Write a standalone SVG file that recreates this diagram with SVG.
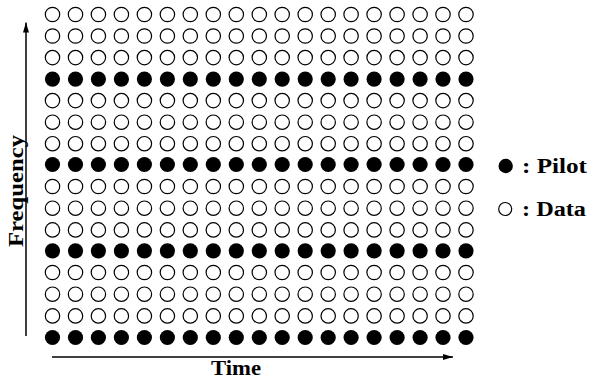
<svg xmlns="http://www.w3.org/2000/svg" width="590" height="381" viewBox="0 0 590 381">
<style>
.d{fill:#fff;stroke:#000;stroke-width:1.2}
.p{fill:#000}
.t{font-family:"Liberation Serif","Times New Roman",serif;font-weight:bold;fill:#000}
.ax{stroke:#000;stroke-width:1.5;fill:none}
</style>
<defs>
<circle id="o" r="7.2" class="d"/>
<circle id="f" r="7.6" class="p"/>
<marker id="ah" viewBox="0 0 10 6" refX="10" refY="3" markerWidth="10" markerHeight="6" markerUnits="userSpaceOnUse" orient="auto">
<path d="M0,0 L10,3 L0,6 Z" fill="#000"/>
</marker>
</defs>
<rect width="590" height="381" fill="#fff"/>
<g id="grid">
<g id="row0" transform="translate(0,14.5)"><use href="#o" x="52.5"/><use href="#o" x="75.5"/><use href="#o" x="98.4"/><use href="#o" x="121.4"/><use href="#o" x="144.4"/><use href="#o" x="167.4"/><use href="#o" x="190.3"/><use href="#o" x="213.3"/><use href="#o" x="236.3"/><use href="#o" x="259.3"/><use href="#o" x="282.2"/><use href="#o" x="305.2"/><use href="#o" x="328.2"/><use href="#o" x="351.1"/><use href="#o" x="374.1"/><use href="#o" x="397.1"/><use href="#o" x="420.1"/><use href="#o" x="443"/><use href="#o" x="466"/></g>
<g id="row1" transform="translate(0,36)"><use href="#o" x="52.5"/><use href="#o" x="75.5"/><use href="#o" x="98.4"/><use href="#o" x="121.4"/><use href="#o" x="144.4"/><use href="#o" x="167.4"/><use href="#o" x="190.3"/><use href="#o" x="213.3"/><use href="#o" x="236.3"/><use href="#o" x="259.3"/><use href="#o" x="282.2"/><use href="#o" x="305.2"/><use href="#o" x="328.2"/><use href="#o" x="351.1"/><use href="#o" x="374.1"/><use href="#o" x="397.1"/><use href="#o" x="420.1"/><use href="#o" x="443"/><use href="#o" x="466"/></g>
<g id="row2" transform="translate(0,57.6)"><use href="#o" x="52.5"/><use href="#o" x="75.5"/><use href="#o" x="98.4"/><use href="#o" x="121.4"/><use href="#o" x="144.4"/><use href="#o" x="167.4"/><use href="#o" x="190.3"/><use href="#o" x="213.3"/><use href="#o" x="236.3"/><use href="#o" x="259.3"/><use href="#o" x="282.2"/><use href="#o" x="305.2"/><use href="#o" x="328.2"/><use href="#o" x="351.1"/><use href="#o" x="374.1"/><use href="#o" x="397.1"/><use href="#o" x="420.1"/><use href="#o" x="443"/><use href="#o" x="466"/></g>
<g id="row3" transform="translate(0,79.1)"><use href="#f" x="52.5"/><use href="#f" x="75.5"/><use href="#f" x="98.4"/><use href="#f" x="121.4"/><use href="#f" x="144.4"/><use href="#f" x="167.4"/><use href="#f" x="190.3"/><use href="#f" x="213.3"/><use href="#f" x="236.3"/><use href="#f" x="259.3"/><use href="#f" x="282.2"/><use href="#f" x="305.2"/><use href="#f" x="328.2"/><use href="#f" x="351.1"/><use href="#f" x="374.1"/><use href="#f" x="397.1"/><use href="#f" x="420.1"/><use href="#f" x="443"/><use href="#f" x="466"/></g>
<g id="row4" transform="translate(0,100.6)"><use href="#o" x="52.5"/><use href="#o" x="75.5"/><use href="#o" x="98.4"/><use href="#o" x="121.4"/><use href="#o" x="144.4"/><use href="#o" x="167.4"/><use href="#o" x="190.3"/><use href="#o" x="213.3"/><use href="#o" x="236.3"/><use href="#o" x="259.3"/><use href="#o" x="282.2"/><use href="#o" x="305.2"/><use href="#o" x="328.2"/><use href="#o" x="351.1"/><use href="#o" x="374.1"/><use href="#o" x="397.1"/><use href="#o" x="420.1"/><use href="#o" x="443"/><use href="#o" x="466"/></g>
<g id="row5" transform="translate(0,122.2)"><use href="#o" x="52.5"/><use href="#o" x="75.5"/><use href="#o" x="98.4"/><use href="#o" x="121.4"/><use href="#o" x="144.4"/><use href="#o" x="167.4"/><use href="#o" x="190.3"/><use href="#o" x="213.3"/><use href="#o" x="236.3"/><use href="#o" x="259.3"/><use href="#o" x="282.2"/><use href="#o" x="305.2"/><use href="#o" x="328.2"/><use href="#o" x="351.1"/><use href="#o" x="374.1"/><use href="#o" x="397.1"/><use href="#o" x="420.1"/><use href="#o" x="443"/><use href="#o" x="466"/></g>
<g id="row6" transform="translate(0,143.7)"><use href="#o" x="52.5"/><use href="#o" x="75.5"/><use href="#o" x="98.4"/><use href="#o" x="121.4"/><use href="#o" x="144.4"/><use href="#o" x="167.4"/><use href="#o" x="190.3"/><use href="#o" x="213.3"/><use href="#o" x="236.3"/><use href="#o" x="259.3"/><use href="#o" x="282.2"/><use href="#o" x="305.2"/><use href="#o" x="328.2"/><use href="#o" x="351.1"/><use href="#o" x="374.1"/><use href="#o" x="397.1"/><use href="#o" x="420.1"/><use href="#o" x="443"/><use href="#o" x="466"/></g>
<g id="row7" transform="translate(0,164.5)"><use href="#f" x="52.5"/><use href="#f" x="75.5"/><use href="#f" x="98.4"/><use href="#f" x="121.4"/><use href="#f" x="144.4"/><use href="#f" x="167.4"/><use href="#f" x="190.3"/><use href="#f" x="213.3"/><use href="#f" x="236.3"/><use href="#f" x="259.3"/><use href="#f" x="282.2"/><use href="#f" x="305.2"/><use href="#f" x="328.2"/><use href="#f" x="351.1"/><use href="#f" x="374.1"/><use href="#f" x="397.1"/><use href="#f" x="420.1"/><use href="#f" x="443"/><use href="#f" x="466"/></g>
<g id="row8" transform="translate(0,186.5)"><use href="#o" x="52.5"/><use href="#o" x="75.5"/><use href="#o" x="98.4"/><use href="#o" x="121.4"/><use href="#o" x="144.4"/><use href="#o" x="167.4"/><use href="#o" x="190.3"/><use href="#o" x="213.3"/><use href="#o" x="236.3"/><use href="#o" x="259.3"/><use href="#o" x="282.2"/><use href="#o" x="305.2"/><use href="#o" x="328.2"/><use href="#o" x="351.1"/><use href="#o" x="374.1"/><use href="#o" x="397.1"/><use href="#o" x="420.1"/><use href="#o" x="443"/><use href="#o" x="466"/></g>
<g id="row9" transform="translate(0,208.2)"><use href="#o" x="52.5"/><use href="#o" x="75.5"/><use href="#o" x="98.4"/><use href="#o" x="121.4"/><use href="#o" x="144.4"/><use href="#o" x="167.4"/><use href="#o" x="190.3"/><use href="#o" x="213.3"/><use href="#o" x="236.3"/><use href="#o" x="259.3"/><use href="#o" x="282.2"/><use href="#o" x="305.2"/><use href="#o" x="328.2"/><use href="#o" x="351.1"/><use href="#o" x="374.1"/><use href="#o" x="397.1"/><use href="#o" x="420.1"/><use href="#o" x="443"/><use href="#o" x="466"/></g>
<g id="row10" transform="translate(0,229.9)"><use href="#o" x="52.5"/><use href="#o" x="75.5"/><use href="#o" x="98.4"/><use href="#o" x="121.4"/><use href="#o" x="144.4"/><use href="#o" x="167.4"/><use href="#o" x="190.3"/><use href="#o" x="213.3"/><use href="#o" x="236.3"/><use href="#o" x="259.3"/><use href="#o" x="282.2"/><use href="#o" x="305.2"/><use href="#o" x="328.2"/><use href="#o" x="351.1"/><use href="#o" x="374.1"/><use href="#o" x="397.1"/><use href="#o" x="420.1"/><use href="#o" x="443"/><use href="#o" x="466"/></g>
<g id="row11" transform="translate(0,250.8)"><use href="#f" x="52.5"/><use href="#f" x="75.5"/><use href="#f" x="98.4"/><use href="#f" x="121.4"/><use href="#f" x="144.4"/><use href="#f" x="167.4"/><use href="#f" x="190.3"/><use href="#f" x="213.3"/><use href="#f" x="236.3"/><use href="#f" x="259.3"/><use href="#f" x="282.2"/><use href="#f" x="305.2"/><use href="#f" x="328.2"/><use href="#f" x="351.1"/><use href="#f" x="374.1"/><use href="#f" x="397.1"/><use href="#f" x="420.1"/><use href="#f" x="443"/><use href="#f" x="466"/></g>
<g id="row12" transform="translate(0,272.5)"><use href="#o" x="52.5"/><use href="#o" x="75.5"/><use href="#o" x="98.4"/><use href="#o" x="121.4"/><use href="#o" x="144.4"/><use href="#o" x="167.4"/><use href="#o" x="190.3"/><use href="#o" x="213.3"/><use href="#o" x="236.3"/><use href="#o" x="259.3"/><use href="#o" x="282.2"/><use href="#o" x="305.2"/><use href="#o" x="328.2"/><use href="#o" x="351.1"/><use href="#o" x="374.1"/><use href="#o" x="397.1"/><use href="#o" x="420.1"/><use href="#o" x="443"/><use href="#o" x="466"/></g>
<g id="row13" transform="translate(0,294.2)"><use href="#o" x="52.5"/><use href="#o" x="75.5"/><use href="#o" x="98.4"/><use href="#o" x="121.4"/><use href="#o" x="144.4"/><use href="#o" x="167.4"/><use href="#o" x="190.3"/><use href="#o" x="213.3"/><use href="#o" x="236.3"/><use href="#o" x="259.3"/><use href="#o" x="282.2"/><use href="#o" x="305.2"/><use href="#o" x="328.2"/><use href="#o" x="351.1"/><use href="#o" x="374.1"/><use href="#o" x="397.1"/><use href="#o" x="420.1"/><use href="#o" x="443"/><use href="#o" x="466"/></g>
<g id="row14" transform="translate(0,315.9)"><use href="#o" x="52.5"/><use href="#o" x="75.5"/><use href="#o" x="98.4"/><use href="#o" x="121.4"/><use href="#o" x="144.4"/><use href="#o" x="167.4"/><use href="#o" x="190.3"/><use href="#o" x="213.3"/><use href="#o" x="236.3"/><use href="#o" x="259.3"/><use href="#o" x="282.2"/><use href="#o" x="305.2"/><use href="#o" x="328.2"/><use href="#o" x="351.1"/><use href="#o" x="374.1"/><use href="#o" x="397.1"/><use href="#o" x="420.1"/><use href="#o" x="443"/><use href="#o" x="466"/></g>
<g id="row15" transform="translate(0,337.5)"><use href="#f" x="52.5"/><use href="#f" x="75.5"/><use href="#f" x="98.4"/><use href="#f" x="121.4"/><use href="#f" x="144.4"/><use href="#f" x="167.4"/><use href="#f" x="190.3"/><use href="#f" x="213.3"/><use href="#f" x="236.3"/><use href="#f" x="259.3"/><use href="#f" x="282.2"/><use href="#f" x="305.2"/><use href="#f" x="328.2"/><use href="#f" x="351.1"/><use href="#f" x="374.1"/><use href="#f" x="397.1"/><use href="#f" x="420.1"/><use href="#f" x="443"/><use href="#f" x="466"/></g>
</g>
<g id="axes">
<line class="ax" x1="26" y1="336" x2="26" y2="22.5" marker-end="url(#ah)"/>
<line class="ax" x1="52" y1="357" x2="453" y2="357" marker-end="url(#ah)"/>
</g>
<g id="labels">
<text class="t" x="236" y="375" font-size="21" text-anchor="middle" textLength="50" lengthAdjust="spacingAndGlyphs">Time</text>
<text class="t" transform="translate(23,191) rotate(-90)" x="0" y="0" font-size="22" text-anchor="middle" textLength="112" lengthAdjust="spacingAndGlyphs">Frequency</text>
</g>
<g id="legend-pilot">
<circle cx="505.7" cy="166" r="7.2" class="p"/>
<text class="t" x="522" y="173" font-size="20" textLength="65" lengthAdjust="spacingAndGlyphs">: Pilot</text>
</g>
<g id="legend-data">
<circle cx="505.2" cy="209" r="6.5" class="d"/>
<text class="t" x="522" y="216" font-size="20" textLength="64" lengthAdjust="spacingAndGlyphs">: Data</text>
</g>
</svg>
